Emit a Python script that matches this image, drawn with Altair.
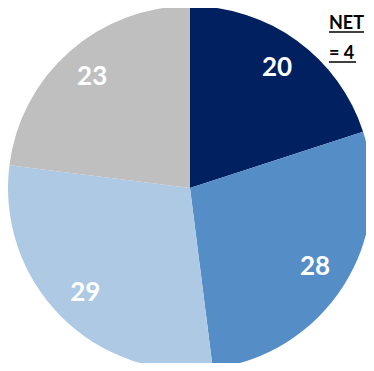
import altair as alt
import pandas as pd

categories = ["A", "B", "C", "D"]
values = [20, 28, 29, 23]
order = [0, 1, 2, 3]
colors = ["#002060", "#558EC7", "#ADC9E4", "#BFBFBF"]
note_lines = ["NET", "= 4"]

df = pd.DataFrame({"cat": categories, "value": values, "order": order})

CX, CY = 182, 180

base = alt.Chart(df).encode(
    theta=alt.Theta("value:Q", stack=True),
    order=alt.Order("order:Q"),
    x=alt.value(CX),
    y=alt.value(CY),
)

pie = base.mark_arc(outerRadius=182).encode(
    color=alt.Color("cat:N", scale=alt.Scale(domain=categories, range=colors), legend=None)
)

labels = base.mark_text(
    radius=148, font="Lato", fontWeight="bold", fontSize=26, color="white"
).encode(text=alt.Text("value:Q"))

NX = 321
note1 = alt.Chart(pd.DataFrame({"t": [note_lines[0]]})).mark_text(
    align="left", baseline="alphabetic", font="Lato", fontWeight="bold", fontSize=18, color="black"
).encode(text="t:N", x=alt.value(NX), y=alt.value(21))
note2 = alt.Chart(pd.DataFrame({"t": [note_lines[1]]})).mark_text(
    align="left", baseline="alphabetic", font="Lato", fontWeight="bold", fontSize=18, color="black"
).encode(text="t:N", x=alt.value(NX), y=alt.value(51))
ul1 = alt.Chart(pd.DataFrame({"a": [0]})).mark_rule(color="black", strokeWidth=1.5).encode(
    x=alt.value(NX), x2=alt.value(356), y=alt.value(24)
)
ul2 = alt.Chart(pd.DataFrame({"a": [0]})).mark_rule(color="black", strokeWidth=1.5).encode(
    x=alt.value(NX), x2=alt.value(348), y=alt.value(54)
)

chart = alt.layer(pie, labels, note1, note2, ul1, ul2).properties(
    width=358, height=355, padding=0, autosize=alt.AutoSizeParams(type="none")
).configure_view(stroke=None)

chart.save("out.html", embed_options={"renderer": "svg", "actions": False})
